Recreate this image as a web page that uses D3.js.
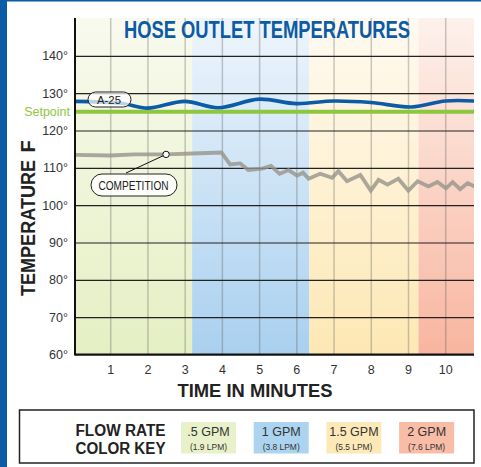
<!doctype html>
<html lang="en">
<head>
<meta charset="utf-8">
<title>Hose Outlet Temperatures</title>
<script src="https://cdn.jsdelivr.net/npm/d3@7"></script>
<style>
  body { margin: 0; background: #fff; }
  svg { display: block; }
  text { font-family: "Liberation Sans", Arial, sans-serif; }
  .narrow { font-family: "Liberation Sans Narrow", "Liberation Sans", Arial, sans-serif; }
</style>
</head>
<body>
<svg width="481" height="467"></svg>
<script>
// ---- data ----
var yTicks = [60, 70, 80, 90, 100, 110, 120, 130, 140];
var xTicks = [1, 2, 3, 4, 5, 6, 7, 8, 9, 10];
var setpoint = 125;

var a25Minutes = [0, 1.3, 2, 3, 3.9, 5, 6, 7, 8, 9.1, 10, 10.8];
var a25Temps   = [127.8, 127.3, 126.0, 127.8, 126.1, 128.4, 127.2, 127.9, 127.5, 126.3, 127.9, 127.9];

var compMinutes = [0, 0.99, 1.66, 2.5, 3.41, 3.99, 4.22, 4.49, 4.71, 5.08, 5.32, 5.55, 5.79, 6.02, 6.18, 6.33,
                   6.64, 6.96, 7.13, 7.36, 7.72, 8.0, 8.21, 8.45, 8.74, 9.01, 9.26, 9.55, 9.79, 10.02, 10.2, 10.4, 10.6, 10.8];
var compTemps   = [113.5, 113.3, 113.6, 113.6, 113.9, 114.1, 110.9, 111.2, 109.4, 109.8, 110.5, 108.4, 109.4, 107.9, 108.7, 107.1,
                   108.4, 107.3, 109.1, 106.4, 108.1, 103.9, 106.8, 105.5, 107.1, 103.9, 106.4, 105.0, 106.2, 104.5, 106.2, 104.3, 105.9, 105.0];

var bandStart = [0, 3.2, 6.35, 9.28];
var bandEnd   = [3.2, 6.35, 9.28, 10.8];
var gpmLabels = [".5 GPM", "1 GPM", "1.5 GPM", "2 GPM"];
var lpmLabels = ["(1.9 LPM)", "(3.8 LPM)", "(5.5 LPM)", "(7.6 LPM)"];

// ---- styles ----
var bandTop    = ["#f8faee", "#eef5fc", "#fffaf1", "#fdf1ec"];
var bandBottom = ["#e5efc3", "#a9d0ef", "#fde8b4", "#f8b59f"];
var keyColors  = ["#e8f1c9", "#acd3ef", "#fde9b7", "#f9bca7"];
var blue = "#0b5ba6";

var svg = d3.select("svg");
var plotLeft = 75, plotRight = 474, plotTop = 18, plotBottom = 354.5;

var x = d3.scaleLinear().domain([0, 10.8]).range([73, 475]);
var y = d3.scaleLinear().domain([60, 150]).range([354.5, 18.5]);

// frame
svg.append("rect").attr("x", 0).attr("y", 0).attr("width", 7).attr("height", 467).attr("fill", blue);
svg.append("rect").attr("x", 0).attr("y", 0).attr("width", 481).attr("height", 1.5).attr("fill", blue);

var defs = svg.append("defs");
bandStart.forEach(function(s, i) {
  var g = defs.append("linearGradient").attr("id", "band" + i)
    .attr("x1", 0).attr("y1", 0).attr("x2", 0).attr("y2", 1);
  g.append("stop").attr("offset", "0%").attr("stop-color", bandTop[i]);
  g.append("stop").attr("offset", "100%").attr("stop-color", bandBottom[i]);
});
defs.append("clipPath").attr("id", "plotclip").append("rect")
  .attr("x", plotLeft).attr("y", plotTop).attr("width", plotRight - plotLeft).attr("height", plotBottom - plotTop);

// flow-rate bands
svg.append("g").selectAll("rect").data(bandStart).enter().append("rect")
  .attr("x", function(d) { return Math.max(x(d), plotLeft); })
  .attr("y", plotTop)
  .attr("width", function(d, i) { return Math.min(x(bandEnd[i]), plotRight) - Math.max(x(d), plotLeft); })
  .attr("height", plotBottom - plotTop)
  .attr("fill", function(d, i) { return "url(#band" + i + ")"; });

// vertical grid + x labels
var xAxis = svg.append("g").attr("transform", "translate(0," + plotBottom + ")")
  .call(d3.axisBottom(x).tickValues(xTicks).tickSize(-(plotBottom - plotTop)).tickPadding(11).tickFormat(d3.format("d")));
xAxis.select(".domain").remove();
xAxis.selectAll(".tick line").attr("stroke", "rgba(80,80,80,0.3)").attr("stroke-width", 1.5);
xAxis.selectAll(".tick text").attr("fill", "#333").style("font-size", "12.5px").attr("class", "narrow");

// horizontal grid + y labels
var yAxis = svg.append("g").attr("transform", "translate(" + plotLeft + ",0)")
  .call(d3.axisLeft(y).tickValues(yTicks).tickSize(-(plotRight - plotLeft)).tickPadding(7).tickFormat(function(d) { return d + "°"; }));
yAxis.select(".domain").remove();
yAxis.selectAll(".tick line").attr("stroke", "#222").attr("stroke-width", 1.2);
yAxis.selectAll(".tick text").attr("fill", "#333").style("font-size", "12.5px").attr("class", "narrow");

// setpoint
svg.append("line").attr("x1", plotLeft).attr("x2", plotRight)
  .attr("y1", y(setpoint)).attr("y2", y(setpoint))
  .attr("stroke", "#8dc63f").attr("stroke-width", 4);
svg.append("text").attr("x", 70).attr("y", y(setpoint)).attr("dy", "0.35em")
  .attr("text-anchor", "end").attr("fill", "#8dc63f").style("font-size", "12.5px")
  .attr("class", "narrow").text("Setpoint");

var plot = svg.append("g").attr("clip-path", "url(#plotclip)");

// A-25 line
plot.append("path")
  .datum(a25Minutes.map(function(m, i) { return [m, a25Temps[i]]; }))
  .attr("fill", "none").attr("stroke", blue).attr("stroke-width", 3.6)
  .attr("d", d3.line().x(function(d) { return x(d[0]); }).y(function(d) { return y(d[1]); }).curve(d3.curveCatmullRom.alpha(0.5)));

// competition line
plot.append("path")
  .datum(compMinutes.map(function(m, i) { return [m, compTemps[i]]; }))
  .attr("fill", "none").attr("stroke", "#97948b").attr("stroke-opacity", 0.8).attr("stroke-width", 3.8)
  .attr("stroke-linejoin", "miter")
  .attr("d", d3.line().x(function(d) { return x(d[0]); }).y(function(d) { return y(d[1]); }));

// axes lines
svg.append("line").attr("x1", plotLeft).attr("x2", plotLeft).attr("y1", plotTop).attr("y2", plotBottom + 1)
  .attr("stroke", "#111").attr("stroke-width", 2);
svg.append("line").attr("x1", plotLeft).attr("x2", plotRight).attr("y1", plotBottom).attr("y2", plotBottom)
  .attr("stroke", "#111").attr("stroke-width", 2);

// annotations
svg.append("rect").attr("x", 88).attr("y", 92).attr("width", 43).attr("height", 15)
  .attr("rx", 7.5).attr("fill", "rgba(255,255,255,0.72)").attr("stroke", "#222").attr("stroke-width", 1);
svg.append("text").attr("x", 109).attr("y", 99.5).attr("dy", "0.36em").attr("text-anchor", "middle")
  .attr("fill", "#222").style("font-size", "11.5px").attr("class", "narrow")
  .attr("textLength", 24).attr("lengthAdjust", "spacingAndGlyphs").text("A-25");

svg.append("line").attr("x1", 126).attr("y1", 173).attr("x2", x(2.5)).attr("y2", y(113.6))
  .attr("stroke", "#111").attr("stroke-width", 1);
svg.append("circle").attr("cx", x(2.5)).attr("cy", y(113.6)).attr("r", 3.2)
  .attr("fill", "#fff").attr("stroke", "#111").attr("stroke-width", 1);
svg.append("rect").attr("x", 91).attr("y", 174).attr("width", 86).attr("height", 22)
  .attr("rx", 11).attr("fill", "rgba(255,255,255,0.85)").attr("stroke", "#222").attr("stroke-width", 1);
svg.append("text").attr("x", 133.5).attr("y", 185).attr("dy", "0.36em").attr("text-anchor", "middle")
  .attr("fill", "#222").style("font-size", "13px").attr("class", "narrow")
  .attr("textLength", 70).attr("lengthAdjust", "spacingAndGlyphs").text("COMPETITION");

// titles
svg.append("text").attr("x", 267).attr("y", 38).attr("text-anchor", "middle")
  .attr("fill", blue).style("font-size", "23px").style("font-weight", "bold")
  .attr("class", "narrow").attr("textLength", 286).attr("lengthAdjust", "spacingAndGlyphs")
  .text("HOSE OUTLET TEMPERATURES");

svg.append("text").attr("transform", "translate(35,228) rotate(-90)").attr("text-anchor", "middle")
  .attr("fill", "#222").style("font-size", "20px").style("font-weight", "bold")
  .attr("textLength", 136).attr("lengthAdjust", "spacingAndGlyphs").text("TEMPERATURE");
svg.append("text").attr("transform", "translate(35,146.5) rotate(-90)").attr("text-anchor", "middle")
  .attr("fill", "#222").style("font-size", "20px").style("font-weight", "bold").text("F");

svg.append("text").attr("x", 255).attr("y", 396.5).attr("text-anchor", "middle")
  .attr("fill", "#222").style("font-size", "18px").style("font-weight", "bold")
  .attr("textLength", 155).attr("lengthAdjust", "spacingAndGlyphs").text("TIME IN MINUTES");

// color key
svg.append("rect").attr("x", 19.5).attr("y", 410).attr("width", 454.5).attr("height", 53)
  .attr("fill", "#fff").attr("stroke", "#222").attr("stroke-width", 1.5);
svg.append("text").attr("x", 165.5).attr("y", 435.5).attr("text-anchor", "end")
  .attr("fill", "#222").style("font-size", "16px").style("font-weight", "bold")
  .attr("textLength", 90).attr("lengthAdjust", "spacingAndGlyphs").text("FLOW RATE");
svg.append("text").attr("x", 165.5).attr("y", 453.5).attr("text-anchor", "end")
  .attr("fill", "#222").style("font-size", "16px").style("font-weight", "bold")
  .attr("textLength", 90).attr("lengthAdjust", "spacingAndGlyphs").text("COLOR KEY");

var key = svg.append("g").selectAll("g").data(gpmLabels).enter().append("g")
  .attr("transform", function(d, i) { return "translate(" + (181 + i * 72.7) + ",422)"; });
key.append("rect").attr("width", 55).attr("height", 31.5)
  .attr("fill", function(d, i) { return keyColors[i]; });
key.append("text").attr("x", 27.5).attr("y", 14).attr("text-anchor", "middle")
  .attr("fill", "#333").style("font-size", "12.5px").attr("class", "narrow").text(function(d) { return d; });
key.append("text").attr("x", 27.5).attr("y", 28).attr("text-anchor", "middle")
  .attr("fill", "#333").style("font-size", "8.5px").attr("class", "narrow")
  .attr("textLength", 37).attr("lengthAdjust", "spacingAndGlyphs").text(function(d, i) { return lpmLabels[i]; });
</script>
</body>
</html>
